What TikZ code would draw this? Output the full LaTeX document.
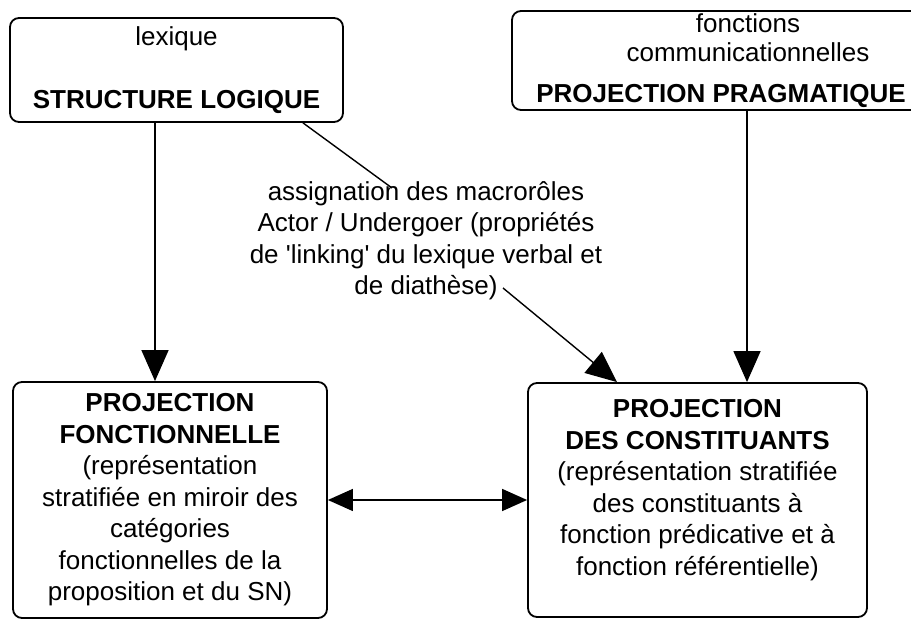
\documentclass[tikz,border=0pt]{standalone}
\usepackage{fontspec}
\newfontfamily\schemafont{Liberation Sans}[Ligatures=CommonOff]
\usetikzlibrary{arrows.meta,shapes}

\begin{document}
\begin{tikzpicture}[x=1pt, y=1pt, every node/.style={font=\schemafont\fontsize{26}{31.5}\selectfont}]
    % Styles
    \tikzstyle{boite}=[draw, line width=1.8pt, rounded corners=9pt, align=center, inner sep=0pt]
    \tikzstyle{fleche}=[line width=1.4pt, -{Triangle[length=31pt, width=27pt]}]
    \tikzstyle{fleche2}=[line width=1.4pt, {Triangle[length=25pt, width=22pt]}-{Triangle[length=25pt, width=22pt]}]

    \useasboundingbox (0,0) rectangle (911,621);
    \clip (0,0) rectangle (911,621);

    % Boites du haut
    \node[boite, minimum width=333pt, minimum height=104pt] (logique) at (176.5,551) {lexique\\[31.5pt]\textbf{STRUCTURE LOGIQUE}};
    \node[boite, minimum width=418pt, minimum height=99pt] (pragma) at (721,560.5) {\hspace*{54pt}fonctions\\[-2pt]\hspace*{54pt}communicationnelles\\[9pt]\textbf{PROJECTION PRAGMATIQUE}};

    % Boites du bas
    \node[boite, minimum width=314pt, minimum height=236pt] (fonct) at (170,121) {\textbf{PROJECTION}\\\textbf{FONCTIONNELLE}\\(représentation\\stratifiée en miroir des\\catégories\\fonctionnelles de la\\proposition et du SN)};
    \node[boite, minimum width=339pt, minimum height=234pt, text depth=25.5pt] (constit) at (697.5,121) {\textbf{PROJECTION}\\\textbf{DES CONSTITUANTS}\\(représentation stratifiée\\des constituants à\\fonction prédicative et à\\fonction référentielle)};

    % Etiquette du lien
    \node[align=center] (lien) at (426,380.5) {assignation des macrorôles\\Actor / Undergoer (propriétés\\de 'linking' du lexique verbal et\\de diathèse)};

    % Liens
    \draw[fleche] ([xshift=-21.5pt]logique.south) -- ([xshift=-15pt]fonct.north);
    \draw[fleche] ([xshift=26pt]pragma.south) -- ([xshift=49.5pt]constit.north);
    \draw[line width=1.4pt] ([xshift=126.5pt]logique.south) -- ([shift={(-34pt,52.5pt)}]lien.center);
    \draw[fleche] ([shift={(77pt,-47.5pt)}]lien.center) -- ([xshift=-80.5pt]constit.north);
    \draw[fleche2] (fonct.east) -- (constit.west);
\end{tikzpicture}
\end{document}
